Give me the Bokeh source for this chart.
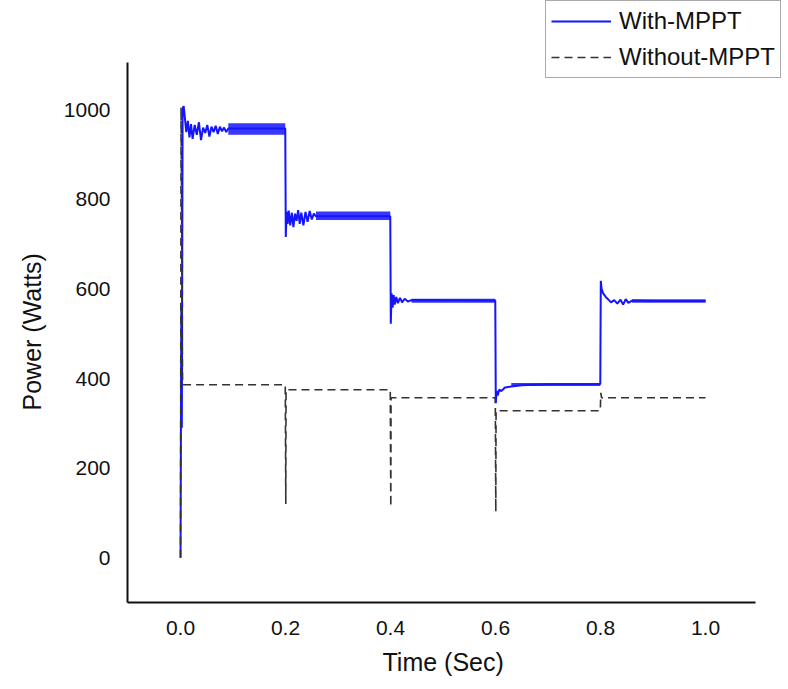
from bokeh.plotting import figure
from bokeh.models import Range1d, Legend, LegendItem, FixedTicker, Title
from bokeh.embed import file_html
from bokeh.resources import INLINE

# PV output power, with MPPT controller (time in s, power in W)
with_t = [0.0, 0.0015, 0.0025, 0.004, 0.006, 0.008, 0.011, 0.014, 0.017, 0.020,
          0.023, 0.027, 0.031, 0.035, 0.039, 0.043, 0.047, 0.051, 0.055, 0.059,
          0.063, 0.067, 0.071, 0.075, 0.079, 0.083, 0.087, 0.091, 0.1995,
          0.2005, 0.202, 0.204, 0.206, 0.209, 0.212, 0.215, 0.218, 0.221, 0.224,
          0.227, 0.230, 0.234, 0.238, 0.242, 0.246, 0.250, 0.254, 0.258, 0.3995,
          0.4005, 0.402, 0.404, 0.406, 0.408, 0.411, 0.414, 0.418, 0.422, 0.427,
          0.433, 0.440, 0.5995,
          0.6005, 0.602, 0.604, 0.607, 0.611, 0.618, 0.630, 0.650, 0.700, 0.7995,
          0.8005, 0.802, 0.805, 0.810, 0.815, 0.820, 0.826, 0.832, 0.838, 0.843,
          0.848, 0.853, 0.860, 0.900, 1.0]
with_p = [0, 560, 290, 1003, 1008, 985, 950, 975, 938, 968,
          935, 966, 944, 972, 932, 960, 948, 966, 940, 962,
          950, 964, 946, 962, 952, 960, 950, 958, 958,
          716, 772, 745, 775, 742, 770, 738, 768, 752, 776,
          745, 770, 742, 772, 750, 774, 755, 768, 762, 762,
          522, 590, 558, 586, 565, 582, 568, 580, 570, 578,
          572, 575, 574,
          345, 372, 362, 375, 372, 380, 382, 385, 387, 388,
          618, 600, 590, 582, 576, 570, 575, 567, 576, 565,
          577, 569, 574, 573, 573]

# ripple envelope of the MPPT output in steady state
band_start = [0.091, 0.258, 0.440, 0.630, 0.860]
band_end = [0.1995, 0.3995, 0.5995, 0.7995, 1.0]
band_low = [944, 754, 569, 383, 569]
band_high = [970, 773, 578, 390, 577]

# PV output power, without MPPT
without_t = [0.0, 0.001, 0.004, 0.1995, 0.2005, 0.201, 0.3995, 0.4005, 0.401,
             0.5995, 0.6005, 0.601, 0.7995, 0.8005, 0.802, 1.0]
without_p = [0, 1005, 386, 386, 120, 375, 375, 114, 357,
             357, 103, 328, 328, 368, 357, 357]

x_ticks = [0.0, 0.2, 0.4, 0.6, 0.8, 1.0]
y_ticks = [0, 200, 400, 600, 800, 1000]
x_axis_extent = (-0.101, 1.095)
y_axis_extent = (-100, 1105)

FONT = "Liberation Sans"
BLUE = "#1414ff"

# the frame fills the canvas up to the top/right edges so the legend box
# can sit above the end of the axes; axis lines are limited with bounds
p = figure(width=788, height=689, output_backend="svg", toolbar_location=None,
           x_range=Range1d(-0.101, 1.158), y_range=Range1d(-100, 1243.75),
           min_border_left=127, min_border_right=0, min_border_top=0,
           min_border_bottom=87)
p.grid.visible = False
p.outline_line_color = None
p.background_fill_color = "white"
p.border_fill_color = "white"

p.quad(left=band_start, right=band_end, bottom=band_low, top=band_high,
       fill_color=BLUE, fill_alpha=0.85, line_color=None)
r_with = p.line(with_t, with_p, line_color=BLUE, line_width=2)
r_without = p.line(without_t, without_p, line_color="#333333", line_width=1.6,
                   line_dash="8 5")

p.xaxis.ticker = FixedTicker(ticks=x_ticks)
p.yaxis.ticker = FixedTicker(ticks=y_ticks)
p.xaxis.major_label_overrides = {t: f"{t:.1f}" for t in x_ticks}
p.xaxis.bounds = x_axis_extent
p.yaxis.bounds = y_axis_extent
for ax in (p.xaxis[0], p.yaxis[0]):
    ax.axis_line_width = 2
    ax.axis_line_color = "#111111"
    ax.major_tick_line_color = None
    ax.minor_tick_line_color = None
    ax.major_tick_out = 0
    ax.major_tick_in = 0
    ax.minor_tick_out = 0
    ax.major_label_text_font = FONT
    ax.major_label_text_font_size = "21px"
    ax.major_label_text_color = "#111111"
p.xaxis.major_label_standoff = 18
p.yaxis.major_label_standoff = 17

# axis titles, centred on the drawn axis lines rather than on the whole frame
x_title = Title(text="Time (Sec)", align="left", offset=255,
                text_font=FONT, text_font_size="25px", text_font_style="normal",
                text_color="#111111", standoff=17)
y_title = Title(text="Power (Watts)", align="left", offset=192,
                text_font=FONT, text_font_size="25px", text_font_style="normal",
                text_color="#111111", standoff=29)
p.add_layout(x_title, "below")
p.add_layout(y_title, "left")

legend = Legend(items=[LegendItem(label="With-MPPT", renderers=[r_with]),
                       LegendItem(label="Without-MPPT", renderers=[r_without])],
                location=(418, 524))
legend.label_text_font = FONT
legend.label_text_font_size = "24px"
legend.label_text_color = "#111111"
legend.glyph_width = 60
legend.glyph_height = 30
legend.label_height = 30
legend.label_standoff = 8
legend.spacing = 6
legend.padding = 5
legend.margin = 0
legend.border_line_color = "#555555"
legend.border_line_width = 1.5
legend.background_fill_alpha = 1.0
p.add_layout(legend, "center")

open("out.html", "w").write(file_html(p, INLINE))
